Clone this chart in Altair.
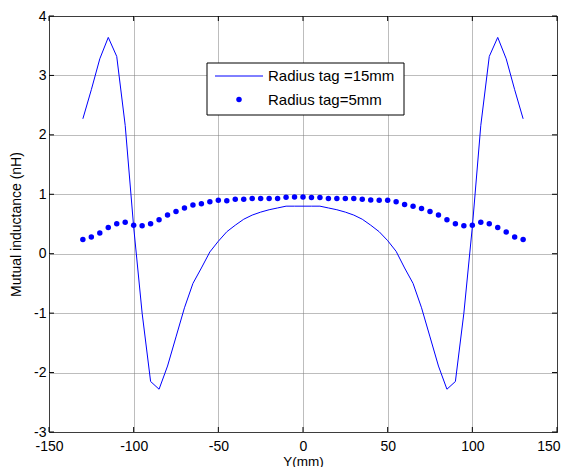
import altair as alt
import pandas as pd

# ---- data ----
x_line = [-130, -125, -120, -115, -110, -105, -100, -95, -90, -85, -80, -75, -70,
          -65, -60, -55, -50, -45, -40, -35, -30, -25, -20, -15, -10, -5, 0,
          5, 10, 15, 20, 25, 30, 35, 40, 45, 50, 55, 60, 65, 70,
          75, 80, 85, 90, 95, 100, 105, 110, 115, 120, 125, 130]
y_line = [2.27, 2.76, 3.28, 3.64, 3.32, 2.16, 0.45, -1.00, -2.15, -2.28, -1.89, -1.40, -0.91,
          -0.50, -0.24, 0.03, 0.21, 0.37, 0.48, 0.58, 0.65, 0.70, 0.74, 0.77, 0.80, 0.80, 0.80,
          0.80, 0.80, 0.77, 0.74, 0.70, 0.65, 0.58, 0.48, 0.37, 0.22, 0.04, -0.24, -0.50, -0.91,
          -1.40, -1.89, -2.28, -2.15, -1.00, 0.45, 2.16, 3.32, 3.64, 3.28, 2.76, 2.27]

x_dots = [-130, -125, -120, -115, -110, -105, -100, -95, -90, -85, -80, -75, -70,
          -65, -60, -55, -50, -45, -40, -35, -30, -25, -20, -15, -10, -5, 0,
          5, 10, 15, 20, 25, 30, 35, 40, 45, 50, 55, 60, 65, 70,
          75, 80, 85, 90, 95, 100, 105, 110, 115, 120, 125, 130]
y_dots = [0.24, 0.28, 0.35, 0.44, 0.505, 0.53, 0.48, 0.47, 0.505, 0.57, 0.65, 0.71, 0.77,
          0.82, 0.84, 0.875, 0.90, 0.89, 0.915, 0.915, 0.93, 0.93, 0.93, 0.93, 0.95, 0.955, 0.955,
          0.945, 0.945, 0.93, 0.93, 0.93, 0.93, 0.915, 0.905, 0.90, 0.90, 0.875, 0.83, 0.80, 0.76,
          0.71, 0.65, 0.57, 0.505, 0.47, 0.48, 0.53, 0.505, 0.44, 0.365, 0.28, 0.24]

x_ticks = [-150, -100, -50, 0, 50, 100, 150]
y_ticks = [-3, -2, -1, 0, 1, 2, 3, 4]
legend_labels = ["Radius tag =15mm", "Radius tag=5mm"]
x_title = "Y(mm)"
y_title = "Mutual inductance (nH)"

# ---- chart ----
W, H = 508, 416
BLUE = "#0000ff"
FONT = "Liberation Sans"

df_line = pd.DataFrame({"x": x_line, "y": y_line})
df_dots = pd.DataFrame({"x": x_dots, "y": y_dots})
df_xt = pd.DataFrame({"x": x_ticks})
df_yt = pd.DataFrame({"y": y_ticks})
one = pd.DataFrame({"a": [0]})

xs = alt.Scale(domain=[-150, 150], nice=False, zero=False)
ys = alt.Scale(domain=[-3, 4], nice=False, zero=False)

x_axis = alt.Axis(values=x_ticks, title=x_title, labelPadding=7, titlePadding=1,
                  titleFontSize=13.5,
                  labelExpr="'' + datum.value",
                  labelAlign={"condition": {"test": "datum.value == 150", "value": "right"},
                              "value": "center"},
                  labelOffset={"condition": {"test": "datum.value == 150", "value": 3},
                               "value": 0})
y_axis = alt.Axis(values=y_ticks, title=y_title, labelPadding=3, titlePadding=10,
                  labelExpr="'' + datum.value")

X = alt.X("x:Q", scale=xs, axis=x_axis)
Y = alt.Y("y:Q", scale=ys, axis=y_axis)

line = alt.Chart(df_line).mark_line(color=BLUE, strokeWidth=1).encode(x=X, y=Y)
dots = alt.Chart(df_dots).mark_circle(color=BLUE, size=30, opacity=1).encode(x=X, y=Y)

TL = 5
tick_bottom = alt.Chart(df_xt).mark_rule(color="black", strokeWidth=1).encode(
    x=X, y=alt.value(H), y2=alt.value(H - TL))
tick_top = alt.Chart(df_xt).mark_rule(color="black", strokeWidth=1).encode(
    x=X, y=alt.value(0), y2=alt.value(TL))
tick_left = alt.Chart(df_yt).mark_rule(color="black", strokeWidth=1).encode(
    y=Y, x=alt.value(0), x2=alt.value(TL))
tick_right = alt.Chart(df_yt).mark_rule(color="black", strokeWidth=1).encode(
    y=Y, x=alt.value(W), x2=alt.value(W - TL))

# legend (drawn as a box in the upper middle of the plot)
leg_box = alt.Chart(one).mark_rect(fill="white", stroke="black", strokeWidth=1).encode(
    x=alt.value(158), x2=alt.value(355), y=alt.value(47), y2=alt.value(99))
leg_line = alt.Chart(one).mark_rule(color=BLUE, strokeWidth=1).encode(
    x=alt.value(166), x2=alt.value(214), y=alt.value(60))
leg_dot = alt.Chart(one).mark_circle(color=BLUE, size=30, opacity=1).encode(
    x=alt.value(190), y=alt.value(83.5))
leg_t1 = alt.Chart(one).mark_text(align="left", baseline="middle", font=FONT,
                                   fontSize=15, color="black").encode(
    x=alt.value(219), y=alt.value(60), text=alt.value(legend_labels[0]))
leg_t2 = alt.Chart(one).mark_text(align="left", baseline="middle", font=FONT,
                                   fontSize=15, color="black").encode(
    x=alt.value(219), y=alt.value(83.5), text=alt.value(legend_labels[1]))

chart = alt.layer(
    line, dots, tick_bottom, tick_top, tick_left, tick_right,
    leg_box, leg_line, leg_dot, leg_t1, leg_t2,
).properties(
    width=W, height=H,
    autosize=alt.AutoSizeParams(type="none"),
    padding={"left": 41, "top": 8, "right": 4, "bottom": 35},
    background="white",
).configure_view(
    stroke="black", strokeWidth=1,
).configure_axis(
    domain=False, ticks=False,
    grid=True, gridColor="#7a7a7a", gridDash=[1, 1], gridWidth=1,
    labelFont=FONT, labelFontSize=14, labelColor="black",
    titleFont=FONT, titleFontSize=14, titleFontWeight="normal", titleColor="black",
)

chart.save("out.html", embed_options={"renderer": "svg", "actions": False})
